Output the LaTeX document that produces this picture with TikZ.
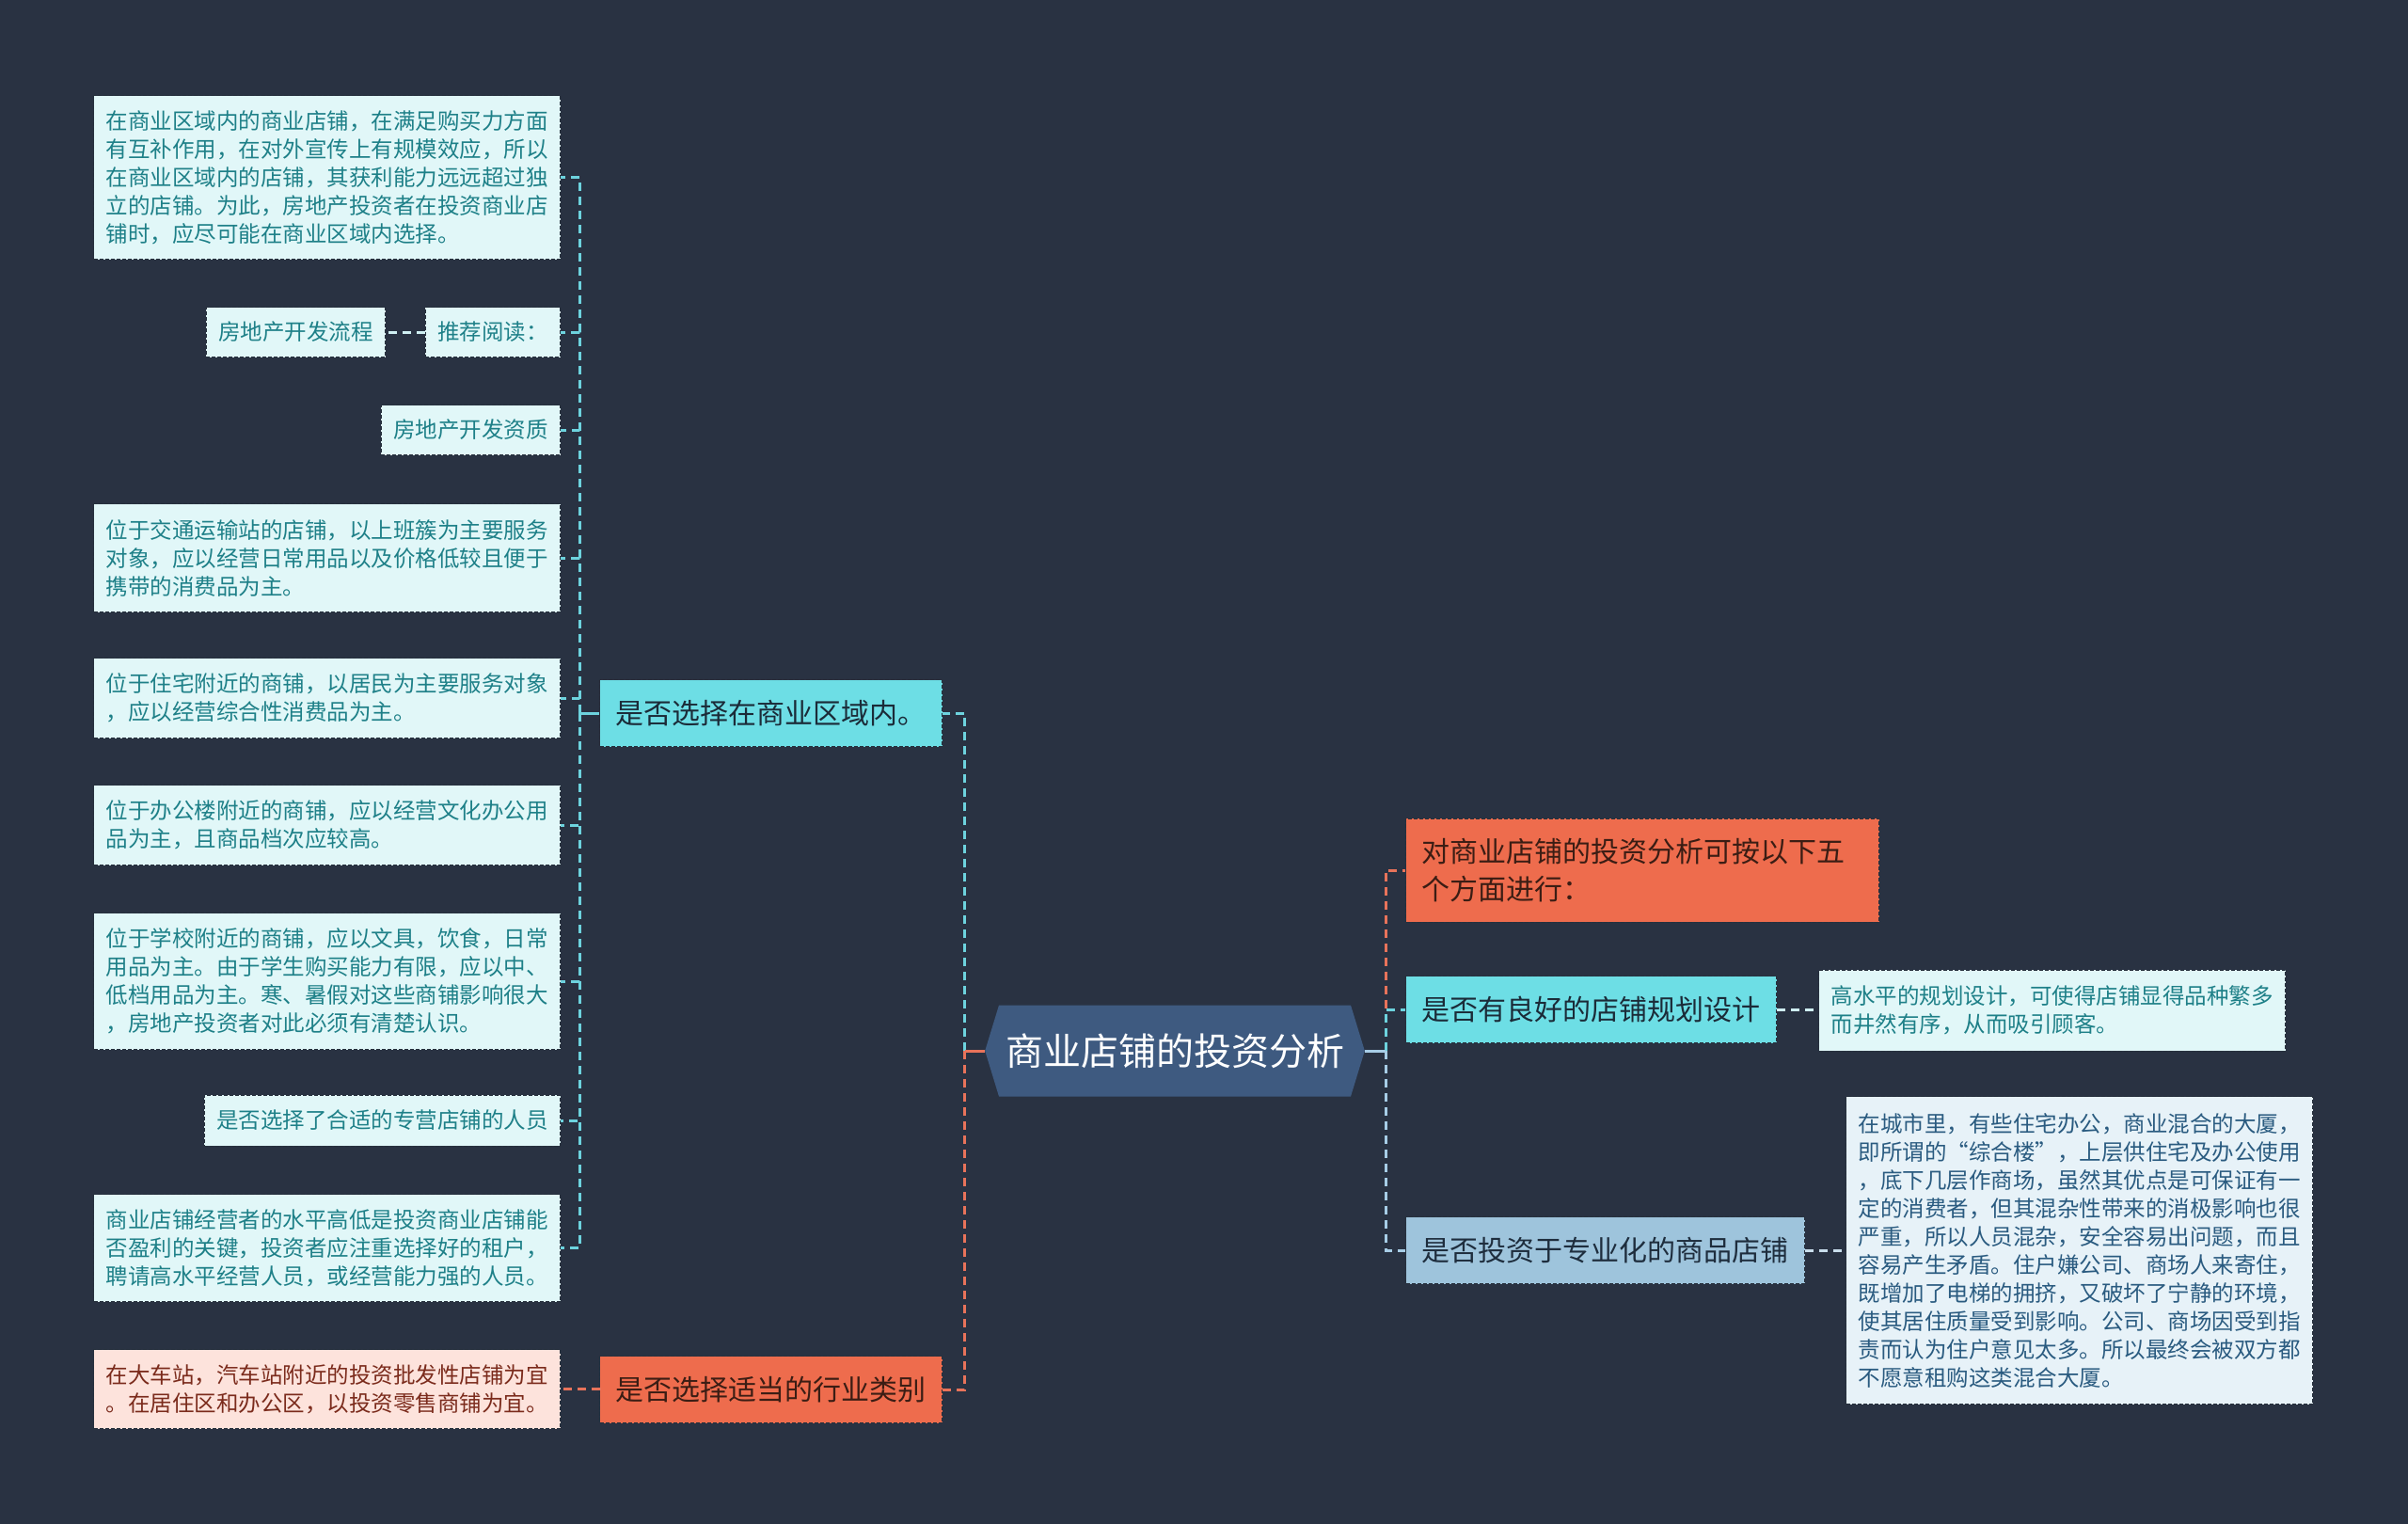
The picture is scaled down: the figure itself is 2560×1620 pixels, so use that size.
\documentclass[tikz,border=0pt]{standalone}
\usepackage{fontspec}
\newfontfamily\cjk{Noto Sans CJK SC}
\usetikzlibrary{shapes.symbols}
\definecolor{bg}{HTML}{293242}
\definecolor{hexfill}{HTML}{3E5A80}
\definecolor{cyanfill}{HTML}{6DDEE5}
\definecolor{cyantext}{HTML}{1B2B38}
\definecolor{orangefill}{HTML}{EE6C4D}
\definecolor{orangetext}{HTML}{3B1D14}
\definecolor{steelfill}{HTML}{9EC4DC}
\definecolor{steeltext}{HTML}{1E2D3D}
\definecolor{leafcfill}{HTML}{E1F7F8}
\definecolor{leafctext}{HTML}{1E8088}
\definecolor{pinkfill}{HTML}{FDE3DC}
\definecolor{pinktext}{HTML}{7B2B1C}
\definecolor{leafbfill}{HTML}{E7F2F8}
\definecolor{leafbtext}{HTML}{2A5B80}
\definecolor{linecyan}{HTML}{6DD3DE}
\definecolor{lineorange}{HTML}{E8735A}
\definecolor{linesteel}{HTML}{A7CDE6}
\definecolor{lineleaf}{HTML}{CFEFF2}
\definecolor{lineleafb}{HTML}{C9DEEC}
\definecolor{boxborder}{HTML}{26303C}
\begin{document}
\begin{tikzpicture}[x=1pt,y=-1pt,
  box/.style={rectangle, draw=boxborder, line width=1pt, dash pattern=on 4pt off 2pt, inner ysep=3pt},
  leaf/.style={box, fill=leafcfill, text=leafctext, font=\cjk\fontsize{23.5pt}{30pt}\selectfont, align=left, inner xsep=13pt},
  pinkleaf/.style={leaf, fill=pinkfill, text=pinktext},
  leafb/.style={leaf, fill=leafbfill, text=leafbtext},
  lvone/.style={box, font=\cjk\fontsize{30pt}{40pt}\selectfont, inner xsep=17pt, minimum height=71pt},
  lvcyan/.style={lvone, fill=cyanfill, text=cyantext},
  lvorange/.style={lvone, fill=orangefill, text=orangetext},
  lvsteel/.style={lvone, fill=steelfill, text=steeltext},
  hex/.style={shape=signal, signal to=west and east, signal pointer angle=146, fill=hexfill, text=white, font=\cjk\fontsize{40pt}{48pt}\selectfont, minimum height=97pt, inner ysep=28pt, inner xsep=7pt},
  link/.style={line width=3pt, dash pattern=on 9pt off 6pt},
  stub/.style={line width=3pt}
]
\useasboundingbox (0,0) rectangle (2560,1620);
\fill[bg] (0,0) rectangle (2560,1620);

% center
\node[hex] (C) at (1249,1117) {商业店铺的投资分析};

% level one
\node[lvcyan, anchor=east] (L1) at (1002,758) {是否选择在商业区域内。};
\node[lvorange, anchor=east] (L2) at (1002,1477) {是否选择适当的行业类别};
\node[lvorange, anchor=west, text width=469pt, align=left, minimum height=110pt] (R1) at (1494,925) {对商业店铺的投资分析可按以下五\\个方面进行：};
\node[lvcyan, anchor=west] (R2) at (1494,1073) {是否有良好的店铺规划设计};
\node[lvsteel, anchor=west] (R3) at (1494,1329) {是否投资于专业化的商品店铺};

% left leaves
\node[leaf, anchor=east, minimum height=174pt] (a1) at (596,188.5) {在商业区域内的商业店铺，在满足购买力方面\\有互补作用，在对外宣传上有规模效应，所以\\在商业区域内的店铺，其获利能力远远超过独\\立的店铺。为此，房地产投资者在投资商业店\\铺时，应尽可能在商业区域内选择。};
\node[leaf, anchor=east, minimum height=53pt] (a2) at (596,353) {推荐阅读：};
\node[leaf, anchor=east, minimum height=53pt] (a2b) at (410,353) {房地产开发流程};
\node[leaf, anchor=east, minimum height=53pt] (a3) at (596,457) {房地产开发资质};
\node[leaf, anchor=east, minimum height=115pt] (a4) at (596,593) {位于交通运输站的店铺，以上班簇为主要服务\\对象，应以经营日常用品以及价格低较且便于\\携带的消费品为主。};
\node[leaf, anchor=east, minimum height=85pt] (a5) at (596,742) {位于住宅附近的商铺，以居民为主要服务对象\\，应以经营综合性消费品为主。};
\node[leaf, anchor=east, minimum height=85pt] (a6) at (596,877) {位于办公楼附近的商铺，应以经营文化办公用\\品为主，且商品档次应较高。};
\node[leaf, anchor=east, minimum height=145pt] (a7) at (596,1043) {位于学校附近的商铺，应以文具，饮食，日常\\用品为主。由于学生购买能力有限，应以中、\\低档用品为主。寒、暑假对这些商铺影响很大\\，房地产投资者对此必须有清楚认识。};
\node[leaf, anchor=east, minimum height=54pt] (a8) at (596,1191) {是否选择了合适的专营店铺的人员};
\node[leaf, anchor=east, minimum height=114pt] (a9) at (596,1326.5) {商业店铺经营者的水平高低是投资商业店铺能\\否盈利的关键，投资者应注重选择好的租户，\\聘请高水平经营人员，或经营能力强的人员。};
\node[pinkleaf, anchor=east, minimum height=84pt] (b1) at (596,1476.5) {在大车站，汽车站附近的投资批发性店铺为宜\\。在居住区和办公区，以投资零售商铺为宜。};

% right leaves
\node[leaf, anchor=west, minimum height=86pt] (r2) at (1933,1074) {高水平的规划设计，可使得店铺显得品种繁多\\而井然有序，从而吸引顾客。};
\node[leafb, anchor=west, minimum height=327pt] (r3) at (1962,1329) {在城市里，有些住宅办公，商业混合的大厦，\\即所谓的“综合楼”，上层供住宅及办公使用\\，底下几层作商场，虽然其优点是可保证有一\\定的消费者，但其混杂性带来的消极影响也很\\严重，所以人员混杂，安全容易出问题，而且\\容易产生矛盾。住户嫌公司、商场人来寄住，\\既增加了电梯的拥挤，又破坏了宁静的环境，\\使其居住质量受到影响。公司、商场因受到指\\责而认为住户意见太多。所以最终会被双方都\\不愿意租购这类混合大厦。};

% connectors: center to left
\draw[link, linecyan] (C.west) ++(-21,0) |- (L1.east);
\draw[link, lineorange] (C.west) ++(-21,0) |- (L2.east);
\draw[stub, lineorange] (C.west) -- ++(-21,0);

% center to right
\draw[link, lineorange] (C.east) ++(22,0) |- (R1.west);
\draw[link, linecyan] (C.east) ++(22,0) |- (R2.west);
\draw[link, linesteel] (C.east) ++(22,0) |- (R3.west);
\draw[stub, linesteel] (C.east) -- ++(22,0);

% L1 to its leaves
\foreach \n in {a1,a2,a3,a4,a5,a6,a7,a8,a9}
  \draw[link, linecyan] (L1.west) ++(-21,0) |- (\n.east);
\draw[stub, linecyan] (L1.west) -- ++(-21,0);
\draw[link, lineleaf] (a2.west) -- (a2b.east);

% L2 to leaf
\draw[link, lineorange] (L2.west) -- (b1.east -| L2.west) -- (b1.east);

% right level one to leaves
\draw[link, lineleaf] (R2.east) -- (R2.east -| r2.west);
\draw[link, lineleafb] (R3.east) -- (R3.east -| r3.west);
\end{tikzpicture}
\end{document}
